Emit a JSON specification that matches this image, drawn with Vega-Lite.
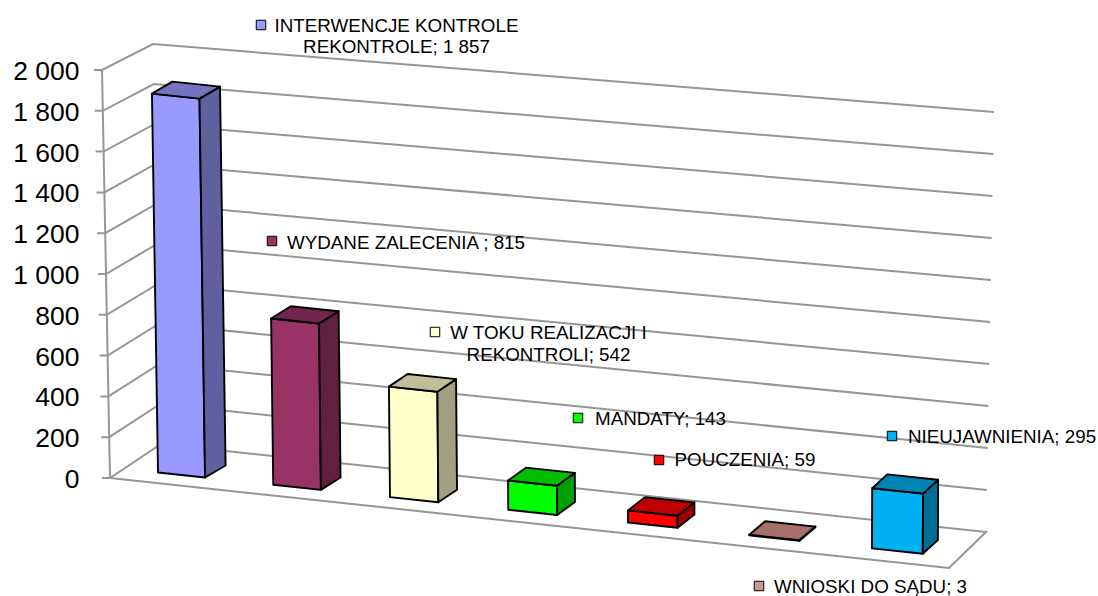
{
"$schema":"https://vega.github.io/schema/vega-lite/v6.json",
"width":1098,"height":596,"padding":0,"autosize":{"type":"none"},
"background":"white",
"config":{"view":{"stroke":null},"font":"Liberation Sans"},
"datasets":{
"kategorie":[
{"kategoria":"INTERWENCJE KONTROLE\nREKONTROLE","wartosc":1857},
{"kategoria":"WYDANE ZALECENIA ","wartosc":815},
{"kategoria":"W TOKU REALIZACJI I\nREKONTROLI","wartosc":542},
{"kategoria":"MANDATY","wartosc":143},
{"kategoria":"POUCZENIA","wartosc":59},
{"kategoria":"WNIOSKI DO SĄDU","wartosc":3},
{"kategoria":"NIEUJAWNIENIA","wartosc":295}
],
"poziomy":[{"poziom":0},{"poziom":200},{"poziom":400},{"poziom":600},{"poziom":800},{"poziom":1000},{"poziom":1200},{"poziom":1400},{"poziom":1600},{"poziom":1800},{"poziom":2000}]
},
"layer":[
{
"data":{"name":"poziomy"},
"transform":[
{"calculate":"datum.poziom==0?[0,1,2,3,4,5]:[0,1,2,3]","as":"k"},
{"flatten":["k"]},
{"calculate":"datum.poziom/2000","as":"q"},
{"calculate":"[102-8*datum.q,110-8*datum.q,161-8*datum.q,986+8*datum.q,949,110][datum.k]","as":"sx"},
{"calculate":"[datum.poziom,datum.poziom,(478-(444-0.2*datum.poziom))/0.204,(478-(532-0.21*datum.poziom))/0.204,(478-568)/0.204,0][datum.k]","as":"sy"}
],
"mark":{"type":"line","stroke":"#969696","strokeWidth":2,"clip":false},
"encoding":{
"x":{"field":"sx","type":"quantitative","scale":{"domain":[0,1098],"nice":false,"zero":false},"axis":null},
"y":{"field":"sy","type":"quantitative","scale":{"domain":[-578.4,2343.1],"nice":false,"zero":false},
"axis":{"title":null,"orient":"left","offset":-90,"values":[0,200,400,600,800,1000,1200,1400,1600,1800,2000],"domain":false,"ticks":false,"grid":false,"labelPadding":11,"labelFontSize":26.5,"labelOffset":1.5,"labelColor":"black","labelFont":"Liberation Sans","labelExpr":"replace(format(datum.value,','),',',' ')"}},
"detail":{"field":"poziom"},
"order":{"field":"k","type":"quantitative"}
}
},
{
"data":{"name":"poziomy"},
"transform":[
{"calculate":"110-8*datum.poziom/2000","as":"sx"}
],
"mark":{"type":"line","stroke":"#969696","strokeWidth":2},
"encoding":{
"x":{"field":"sx","type":"quantitative"},
"y":{"field":"poziom","type":"quantitative"},
"order":{"field":"poziom","type":"quantitative"}
}
},
{
"data":{"name":"kategorie"},
"transform":[
{"window":[{"op":"row_number","as":"n"}]},
{"calculate":"datum.n-1","as":"i"},
{"calculate":"[0,1,2,3,4,5,6,7,8,9,10,11]","as":"k"},
{"flatten":["k"]},
{"calculate":"floor(datum.k/4)","as":"f"},
{"calculate":"datum.k%4","as":"c"},
{"calculate":"[0,1,1,0][datum.c]","as":"a"},
{"calculate":"[0,0,1,1][datum.c]","as":"b"},
{"calculate":"datum.f==1?1:datum.a","as":"u"},
{"calculate":"datum.f==0?0:(datum.f==1?datum.a:datum.b)","as":"d"},
{"calculate":"datum.f==2?1:datum.b","as":"h"},
{"calculate":"datum.i+0.41*datum.u","as":"t"},
{"calculate":"158+114.5*datum.t+0.75*datum.t*datum.t","as":"x0"},
{"calculate":"472.5+0.1063*(datum.x0-158)-datum.d*(12+0.3*datum.i)","as":"y0"},
{"calculate":"datum.x0+(datum.x0-750)*0.0000055*datum.wartosc*datum.h+datum.d*(20.5-0.9*datum.i)","as":"sx"},
{"calculate":"(478-datum.y0)/0.204+datum.wartosc*datum.h","as":"sy"},
{"calculate":"datum.i+'-'+datum.f","as":"klucz"}
],
"mark":{"type":"line","interpolate":"linear-closed","stroke":"black","strokeWidth":1.9,"strokeJoin":"round"},
"encoding":{
"x":{"field":"sx","type":"quantitative"},
"y":{"field":"sy","type":"quantitative"},
"fill":{"field":"klucz","type":"nominal","legend":null,
"scale":{"domain":["0-0","0-1","0-2","1-0","1-1","1-2","2-0","2-1","2-2","3-0","3-1","3-2","4-0","4-1","4-2","5-0","5-1","5-2","6-0","6-1","6-2"],
"range":["#9999FF","#6060A0","#7373BF","#993366","#602040","#73264D","#FFFFCC","#A0A080","#BFBF99","#00FF00","#00A000","#00BF00","#FF0000","#A00000","#BF0000","#CC9999","#806060","#A5706B","#00B0F0","#006E96","#0084B4"]}},
"order":{"field":"k","type":"quantitative"}
}
},
{
"data":{"name":"kategorie"},
"transform":[
{"window":[{"op":"row_number","as":"n"}]},
{"calculate":"datum.n-1","as":"i"},
{"calculate":"datum.i+'-0'","as":"klucz"},
{"calculate":"[261,272,435,578,659,759,892][datum.i]","as":"kx"},
{"calculate":"(478-[25,241,332,418,460,586,436][datum.i])/0.204","as":"ky"}
],
"mark":{"type":"square","size":90,"opacity":1,"stroke":"black","strokeWidth":1},
"encoding":{
"x":{"field":"kx","type":"quantitative"},
"y":{"field":"ky","type":"quantitative"},
"fill":{"field":"klucz","type":"nominal","legend":null,
"scale":{"domain":["0-0","0-1","0-2","1-0","1-1","1-2","2-0","2-1","2-2","3-0","3-1","3-2","4-0","4-1","4-2","5-0","5-1","5-2","6-0","6-1","6-2"],
"range":["#9999FF","#6060A0","#7373BF","#993366","#602040","#73264D","#FFFFCC","#A0A080","#BFBF99","#00FF00","#00A000","#00BF00","#FF0000","#A00000","#BF0000","#CC9999","#806060","#A5706B","#00B0F0","#006E96","#0084B4"]}}
}
},
{
"data":{"name":"kategorie"},
"transform":[
{"window":[{"op":"row_number","as":"n"}]},
{"calculate":"datum.n-1","as":"i"},
{"calculate":"datum.kategoria+'; '+replace(format(datum.wartosc,','),',',' ')","as":"etykieta"},
{"calculate":"[396.5,406,548.5,660.5,745,870.5,1002][datum.i]","as":"lx"},
{"calculate":"(478-[26,243,333,419,460,587,437][datum.i])/0.204","as":"ly"}
],
"mark":{"type":"text","align":"center","baseline":"middle","fontSize":18.8,"lineHeight":21.5,"lineBreak":"\n","color":"black","font":"Liberation Sans"},
"encoding":{
"x":{"field":"lx","type":"quantitative"},
"y":{"field":"ly","type":"quantitative"},
"text":{"field":"etykieta"}
}
}
]
}
